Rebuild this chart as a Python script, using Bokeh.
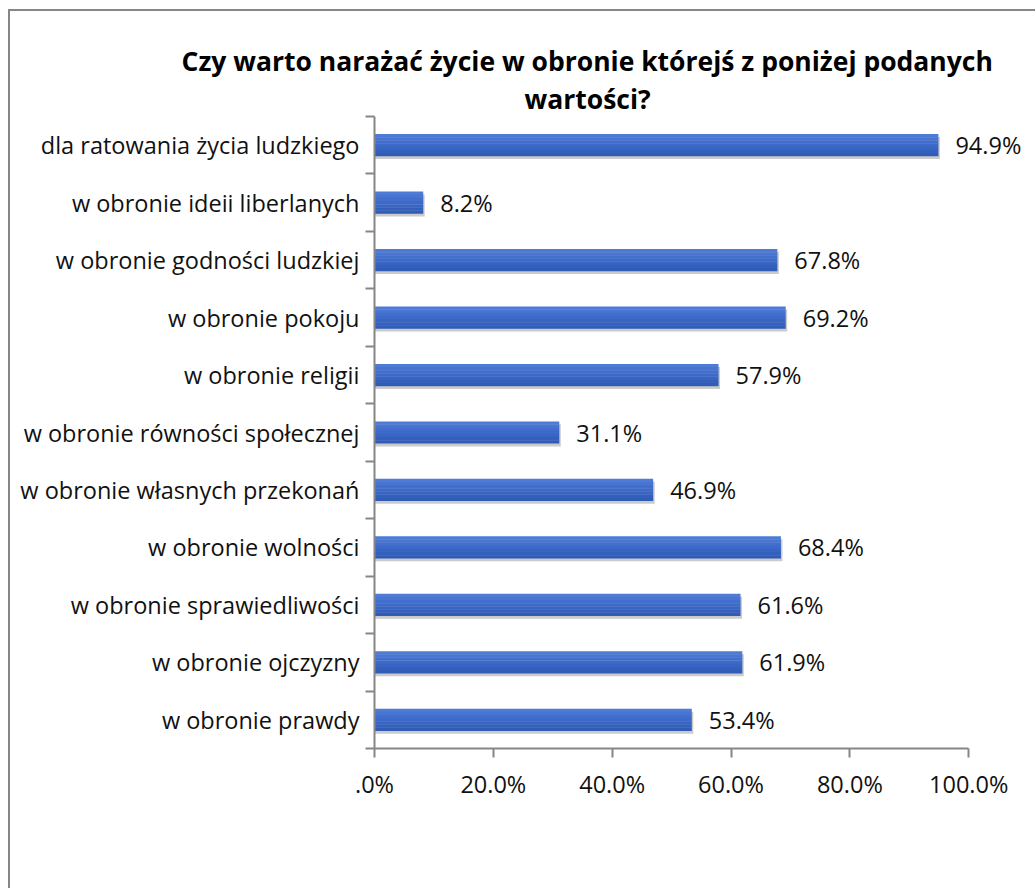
from bokeh.plotting import figure
from bokeh.models import Range1d, FixedTicker, Title, ColumnDataSource
from bokeh.core.properties import value
from bokeh.embed import file_html
from bokeh.resources import INLINE

categories = [
    "dla ratowania życia ludzkiego",
    "w obronie ideii liberlanych",
    "w obronie godności ludzkiej",
    "w obronie pokoju",
    "w obronie religii",
    "w obronie równości społecznej",
    "w obronie własnych przekonań",
    "w obronie wolności",
    "w obronie sprawiedliwości",
    "w obronie ojczyzny",
    "w obronie prawdy",
]
values = [94.9, 8.2, 67.8, 69.2, 57.9, 31.1, 46.9, 68.4, 61.6, 61.9, 53.4]
x_ticks = [0, 20, 40, 60, 80, 100]
x_tick_labels = [".0%", "20.0%", "40.0%", "60.0%", "80.0%", "100.0%"]
title_lines = ["Czy warto narażać życie w obronie którejś z poniżej podanych", "wartości?"]

FONT = "Open Sans"
FS = "23.5px"
n = len(categories)
ypos = [n - 1 - i for i in range(n)]
bounds = [k - 0.5 for k in range(n + 1)]

src = ColumnDataSource(dict(y=ypos, v=values, lbl=[f"{v:.1f}%" for v in values]))

p = figure(width=1035, height=888, output_backend="svg", toolbar_location=None,
           x_range=Range1d(0, 110.4), y_range=Range1d(-0.5, n - 0.5),
           min_border_left=374, min_border_right=5, min_border_top=116, min_border_bottom=140)
p.outline_line_color = None
p.xgrid.visible = False
p.ygrid.visible = False
p.background_fill_color = "white"
p.border_fill_color = None
p.styles = {"background": (
    "linear-gradient(#868686,#868686) 8px 9px / 2px 100% no-repeat, "
    "linear-gradient(#868686,#868686) 8px 9px / 100% 2px no-repeat, white")}

H = 0.383
# soft shadow beneath each bar
sh = ColumnDataSource(dict(y=[y - 0.05 for y in ypos], v=[v + 0.25 for v in values]))
p.hbar(y="y", left=0, right="v", height=H, source=sh, fill_color="#8c8c8c",
       fill_alpha=0.45, line_color=None)
# bar body with a simple vertical gradient made of strips
strip_colors = ["#4e7bd6", "#4875d2", "#426fcd", "#3d6ac8", "#3865c3", "#3460bd", "#305bb7"]
k = len(strip_colors)
for j, c in enumerate(strip_colors):
    s = ColumnDataSource(dict(y=[y + H / 2 - H / k * (j + 0.5) for y in ypos], v=values))
    p.hbar(y="y", left=0, right="v", height=H / k + 0.004, source=s, fill_color=c,
           line_color=None)

p.text(x="v", y="y", text="lbl", source=src, x_offset=17, text_baseline="middle",
       text_align="left", text_font=value(FONT), text_font_size=FS, text_color="#111111")

# axes
xa = p.xaxis[0]
xa.bounds = (0, 100)
xa.ticker = FixedTicker(ticks=x_ticks)
xa.major_label_overrides = {t: l for t, l in zip(x_ticks, x_tick_labels)}
xa.axis_line_color = "#868686"
xa.axis_line_width = 2
xa.major_tick_line_color = "#868686"
xa.major_tick_line_width = 2
xa.major_tick_in = 0
xa.major_tick_out = 9
xa.minor_tick_line_color = None
xa.major_label_standoff = 10
xa.major_label_text_font = FONT
xa.major_label_text_font_size = FS
xa.major_label_text_color = "#111111"

ya = p.yaxis[0]
ya.ticker = FixedTicker(ticks=ypos, minor_ticks=bounds)
ya.major_label_overrides = {y: c for y, c in zip(ypos, categories)}
ya.axis_line_color = "#868686"
ya.axis_line_width = 2
ya.major_tick_line_color = None
ya.major_tick_in = 0
ya.major_tick_out = 0
ya.minor_tick_line_color = "#868686"
ya.minor_tick_line_width = 2
ya.minor_tick_in = 0
ya.minor_tick_out = 9
ya.major_label_standoff = 6
ya.major_label_text_font = FONT
ya.major_label_text_font_size = FS
ya.major_label_text_color = "#111111"

title_offsets = [-193, 150]
for txt, off in reversed(list(zip(title_lines, title_offsets))):
    p.add_layout(Title(text=txt, align="left", offset=off, standoff=0,
                       text_font=FONT, text_font_style="bold", text_font_size="26.5px",
                       text_color="#000000"), "above")

open("out.html", "w").write(file_html(p, INLINE))
